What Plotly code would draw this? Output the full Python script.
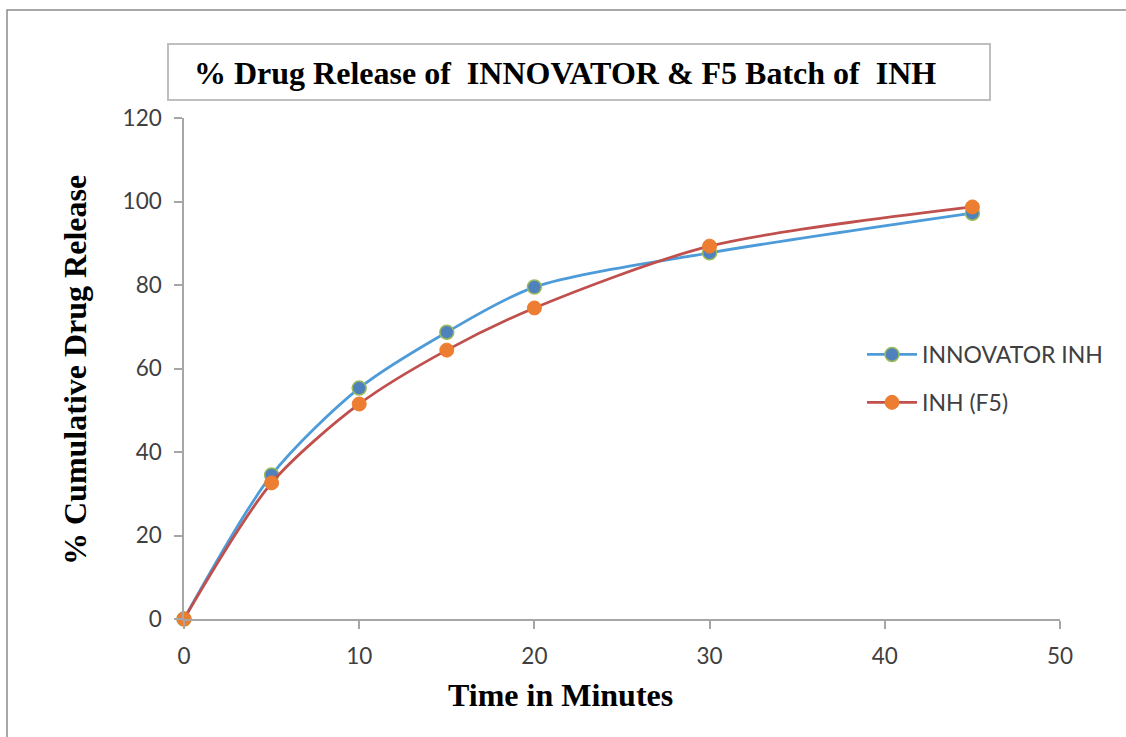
import plotly.graph_objects as go

# Dissolution time points (minutes)
time_min = [0, 5, 10, 15, 20, 30, 45]

# Cumulative % drug released
innovator_inh = [0, 34.5, 55.3, 68.7, 79.5, 87.7, 97.2]
inh_f5 = [0, 32.6, 51.5, 64.4, 74.5, 89.3, 98.7]

x_ticks = [0, 10, 20, 30, 40, 50]
y_ticks = [0, 20, 40, 60, 80, 100, 120]

W, H = 1126, 737
L, R, T, B = 184, 66, 118, 118
PW, PH = W - L - R, H - T - B


def px_x(p):
    return (p - L) / PW


def px_y(p):
    return (H - B - p) / PH


fig = go.Figure()

fig.add_trace(go.Scatter(
    x=time_min, y=innovator_inh, name="INNOVATOR INH",
    mode="lines+markers", line=dict(color="#4d9bd9", width=2.8, shape="spline", smoothing=0.8),
    marker=dict(size=14, color="#4f81bd", line=dict(color="#9bbb59", width=1.5)),
    legendgroup="a", cliponaxis=False,
))
fig.add_trace(go.Scatter(
    x=time_min, y=inh_f5, name="INH (F5)",
    mode="lines+markers", line=dict(color="#c0504d", width=2.8, shape="spline", smoothing=0.8),
    marker=dict(size=14, color="#ed7d31", line=dict(color="#ed7d31", width=1)),
    legendgroup="b", cliponaxis=False,
))

axis_common = dict(
    showgrid=False, zeroline=False, showline=True, linecolor="#a6a6a6", linewidth=1.5,
    ticks="outside", ticklen=8, tickcolor="#a6a6a6", tickwidth=1.5,
    tickfont=dict(family="Lato", size=22.5, color="#404040"),
    ticklabelstandoff=8,
)

serif_bold = dict(family="Liberation Serif", size=32, color="#000000")

fig.update_xaxes(range=[0, 50], tickvals=x_ticks, **axis_common)
fig.update_yaxes(range=[0, 120], tickvals=y_ticks, **axis_common)

fig.update_layout(
    width=W, height=H,
    margin=dict(l=L, r=R, t=T, b=B, pad=0),
    paper_bgcolor="white", plot_bgcolor="white",
    showlegend=True,
    legend=dict(
        x=px_x(862), y=px_y(333), xanchor="left", yanchor="top",
        font=dict(family="Lato", size=23, color="#404040"),
        traceorder="grouped", tracegroupgap=15, itemwidth=50,
        bgcolor="rgba(0,0,0,0)",
    ),
    shapes=[
        # chart frame
        dict(type="rect", xref="paper", yref="paper",
             x0=px_x(7), x1=px_x(1140), y0=px_y(750), y1=px_y(10),
             line=dict(color="#8c8c8c", width=1.5), fillcolor="rgba(0,0,0,0)", layer="below"),
        # title box
        dict(type="rect", xref="paper", yref="paper",
             x0=px_x(168), x1=px_x(990), y0=px_y(100), y1=px_y(44),
             line=dict(color="#bfbfbf", width=2), fillcolor="white"),
    ],
    annotations=[
        dict(text="<b>% Drug Release of  INNOVATOR &amp; F5 Batch of  INH</b>",
             xref="paper", yref="paper", x=px_x(565), y=px_y(73),
             xanchor="center", yanchor="middle", showarrow=False, font=serif_bold),
        dict(text="<b>Time in Minutes</b>",
             xref="paper", yref="paper", x=px_x(560), y=px_y(695),
             xanchor="center", yanchor="middle", showarrow=False, font=serif_bold),
        dict(text="<b>% Cumulative Drug Release</b>", textangle=-90,
             xref="paper", yref="paper", x=px_x(75), y=px_y(370),
             xanchor="center", yanchor="middle", showarrow=False, font=serif_bold),
    ],
)

fig.write_html("out.html")
